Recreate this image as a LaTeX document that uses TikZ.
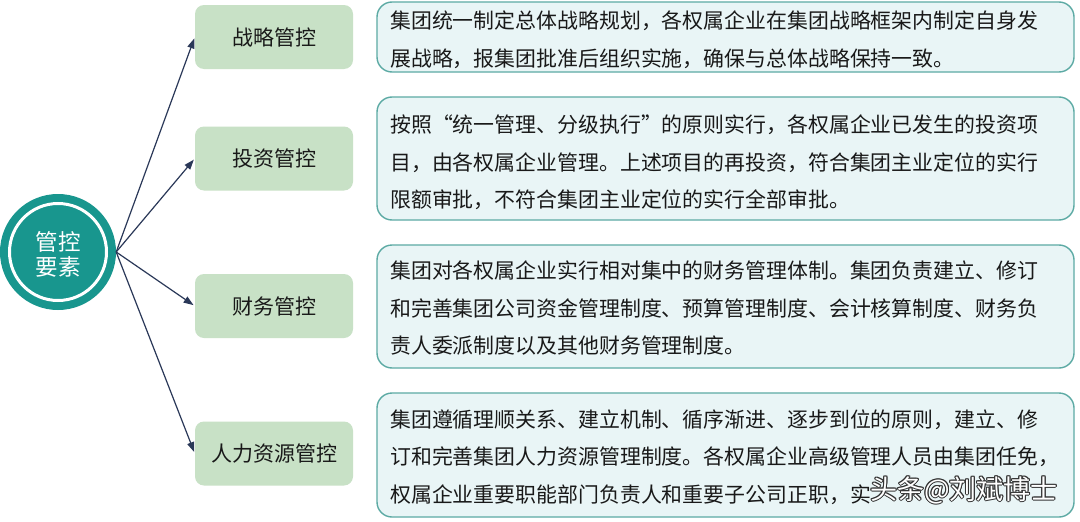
\documentclass[tikz,border=0pt]{standalone}
\usepackage{fontspec}
\setmainfont{Noto Sans CJK SC}
\usetikzlibrary{arrows.meta}
\definecolor{tealc}{RGB}{24,150,142}
\definecolor{greenbox}{RGB}{200,225,198}
\definecolor{descfill}{RGB}{233,245,246}
\definecolor{descline}{RGB}{92,170,164}
\definecolor{arrowc}{RGB}{42,56,88}
\definecolor{textc}{RGB}{25,25,25}
\tikzset{
  labelbox/.style={draw=none, fill=greenbox, rounded corners=9pt, minimum width=158pt, minimum height=64pt, inner sep=0pt, text=textc, font={\fontsize{21}{25}\selectfont}},
  descbox/.style={draw=descline, line width=1.4pt, fill=descfill, rounded corners=15pt, minimum width=697pt, inner sep=0pt},
  desctext/.style={anchor=west, align=left, inner sep=0pt, text=textc, font={\fontsize{20.9}{37.5}\selectfont}},
  conn/.style={draw=arrowc, line width=1.2pt, -{Triangle[length=10pt,width=7pt]}, shorten >=1.5pt},
  wmshadow/.style={text=black!80, font={\fontsize{27}{30}\selectfont}, inner sep=0pt},
  wmtext/.style={text=white, font={\fontsize{27}{30}\selectfont}, inner sep=0pt}
}
\begin{document}
\begin{tikzpicture}[x=1pt,y=-1pt]
\useasboundingbox (0,0) rectangle (1080,522);
\fill[white] (0,0) rectangle (1080,522);

% central circle
\node[circle, fill=tealc, minimum size=116pt, inner sep=0pt] (c) at (58,252) {};
\draw[white, line width=3pt] (c.center) circle[radius=48.5pt];
\node[text=white, align=center, font={\fontsize{22.5}{25}\selectfont}] (ct) at (58,254) {管控\\要素};

% left label boxes
\node[labelbox] (b1) at (274,37) {战略管控};
\node[labelbox] (b2) at (274,158.5) {投资管控};
\node[labelbox] (b3) at (274,306) {财务管控};
\node[labelbox] (b4) at (274,453.5) {人力资源管控};

% connectors
\draw[conn] (c.east) -- (b1.west);
\draw[conn] (c.east) -- (b2.west);
\draw[conn] (c.east) -- (b3.west);
\draw[conn] (c.east) -- (b4.west);

% description boxes
\node[descbox, minimum height=70pt] (d1) at (725.5,37) {};
\node[descbox, minimum height=123pt] (d2) at (725.5,158.5) {};
\node[descbox, minimum height=123pt] (d3) at (725.5,306.5) {};
\node[descbox, minimum height=124pt] (d4) at (725.5,455) {};

\node[desctext] (t1) at (390,39.5) {集团统一制定总体战略规划，各权属企业在集团战略框架内制定自身发\\展战略，报集团批准后组织实施，确保与总体战略保持一致。};
\node[desctext] (t2) at (390,162.5) {按照“统一管理、分级执行”的原则实行，各权属企业已发生的投资项\\目，由各权属企业管理。上述项目的再投资，符合集团主业定位的实行\\限额审批，不符合集团主业定位的实行全部审批。};
\node[desctext] (t3) at (390,308.5) {集团对各权属企业实行相对集中的财务管理体制。集团负责建立、修订\\和完善集团公司资金管理制度、预算管理制度、会计核算制度、财务负\\责人委派制度以及其他财务管理制度。};
\node[desctext] (t4) at (390,457) {集团遵循理顺关系、建立机制、循序渐进、逐步到位的原则，建立、修\\订和完善集团人力资源管理制度。各权属企业高级管理人员由集团任免，\\权属企业重要职能部门负责人和重要子公司正职，实};

% watermark
\foreach \dx/\dy in {-1/0,1/0,0/-1,0/1,-0.8/-0.8,0.8/0.8,-0.8/0.8,0.8/-0.8}{
  \node[wmshadow, anchor=west] at (870+\dx,490+\dy) {头条@刘斌博士};
}
\node[wmtext, anchor=west] (wm) at (870,490) {头条@刘斌博士};
\end{tikzpicture}
\end{document}
